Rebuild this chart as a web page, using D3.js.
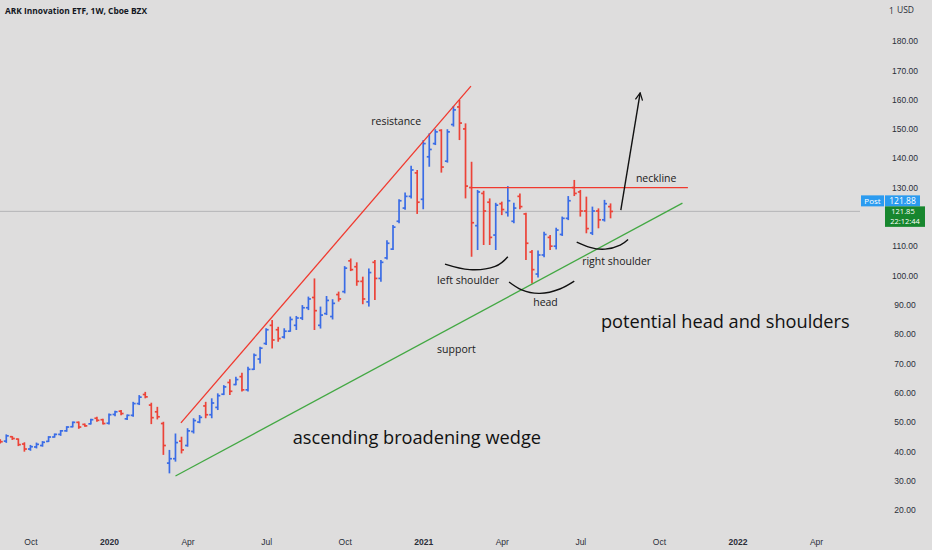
<!DOCTYPE html>
<meta charset="utf-8">
<title>ARK Innovation ETF, 1W</title>
<style>
  body { margin: 0; background: #dedddd; }
  svg { display: block; font-family: "Open Sans", sans-serif; }
  .axis text { fill: #2a2e39; font-size: 8.5px; }
  .note { fill: #1a1a1a; font-size: 10.5px; }
  .big { fill: #111; font-size: 18.2px; }
</style>
<svg width="932" height="550"></svg>
<script src="https://d3js.org/d3.v7.min.js"></script>
<script>

  // weekly bars, first one is the week of 2019-09-02
  var firstWeek = "2019-09-02";
  var opens  = [43.8,43.5,45.0,44.2,42.5,40.8,41.5,42.0,43.4,44.9,45.8,47.0,48.4,49.9,49.2,49.4,51.3,50.8,
                49.6,52.6,53.7,51.1,52.3,56.3,59.4,55.8,53.5,49.5,36.0,37.5,43.5,42.0,46.8,50.0,55.5,52.5,
                55.0,59.5,63.5,62.8,65.5,61.0,68.0,71.5,76.8,83.0,81.5,79.0,81.0,83.0,85.5,89.0,92.5,83.0,
                87.0,86.0,93.5,94.5,105.0,103.0,98.0,91.0,104.5,99.0,106.0,109.0,118.5,123.0,127.0,135.0,
                126.0,140.5,145.0,149.5,139.0,151.5,157.5,150.0,130.0,117.0,128.0,125.0,113.8,124.5,121.5,
                118.5,127.0,121.0,108.0,100.5,107.0,113.0,110.0,114.0,119.5,130.0,128.5,122.0,114.5,122.0,
                119.0,123.5];
  var highs  = [44.1,45.8,45.2,44.4,43.1,42.2,43.0,43.5,45.2,46.1,47.3,48.6,50.2,50.2,49.5,51.1,51.8,51.1,
                52.9,53.9,54.1,52.6,56.9,59.2,60.3,56.6,55.2,50.1,40.5,46.1,45.0,47.9,51.3,52.4,56.9,58.1,
                59.8,62.6,64.6,65.5,66.8,68.9,73.4,75.7,82.0,84.8,82.5,82.0,86.0,86.2,89.9,92.8,99.0,89.4,
                93.0,91.9,94.5,103.2,105.8,104.5,99.6,102.4,105.3,105.3,112.0,117.2,126.0,128.3,137.4,136.0,
                146.2,148.5,149.9,149.9,149.9,157.8,159.9,151.9,138.8,129.2,128.9,126.3,124.8,125.2,130.5,
                124.8,128.0,121.4,108.7,108.5,114.9,113.8,116.3,120.1,127.1,132.6,129.2,126.9,123.5,122.9,
                125.8,124.6];
  var lows   = [42.7,42.9,43.9,41.8,39.9,40.2,41.0,41.6,43.2,44.7,45.3,46.7,48.2,47.7,48.4,49.2,50.1,49.2,
                49.2,52.0,52.3,50.7,51.8,55.8,58.1,49.3,50.9,38.8,32.5,36.5,39.3,41.6,46.1,49.6,51.3,51.3,
                54.1,59.2,59.2,62.6,60.4,60.4,67.8,70.0,76.3,75.1,77.4,78.5,80.8,81.4,84.8,88.2,81.4,81.9,
                86.5,85.0,91.1,93.9,101.5,96.5,90.2,89.4,91.6,97.9,105.5,108.7,117.8,122.4,126.3,121.0,
                122.6,137.1,144.5,135.1,138.5,150.8,146.2,126.3,106.4,108.7,110.4,110.4,108.7,120.6,120.1,
                117.8,122.6,105.3,97.3,99.3,106.2,108.7,108.9,113.5,118.9,127.1,120.1,114.4,113.8,116.1,
                118.4,119.5];
  var closes = [43.3,45.3,44.4,42.3,40.8,41.6,42.4,43.1,44.9,45.8,47.0,48.3,49.9,48.3,48.7,50.8,50.6,49.5,
                52.5,53.5,52.9,52.3,56.3,58.5,58.6,51.5,51.8,42.0,37.5,43.0,40.5,47.0,50.5,51.6,52.5,56.5,
                59.0,62.0,60.5,64.5,61.0,68.0,72.8,75.2,81.5,78.0,78.5,81.0,85.0,85.5,89.0,92.0,88.0,86.5,
                91.5,90.5,92.0,102.5,102.0,98.0,92.0,101.0,99.0,104.5,111.0,116.5,125.5,127.0,136.0,125.0,
                145.0,143.0,149.0,137.0,149.0,156.5,152.0,130.5,118.0,128.5,122.0,113.0,124.0,122.5,125.5,
                123.0,123.5,111.0,102.0,107.0,114.0,110.0,115.5,119.5,125.5,128.0,122.0,116.0,122.0,119.0,
                124.5,121.85];

  var tickDates  = ["2019-10-07","2020-01-06","2020-04-06","2020-07-06","2020-10-05","2021-01-04",
                    "2021-04-05","2021-07-05","2021-10-04","2022-01-03","2022-04-04"];
  var tickLabels = ["Oct","2020","Apr","Jul","Oct","2021","Apr","Jul","Oct","2022","Apr"];
  // 120.00 sits under the price tags, so it is not shown
  var priceTicks = [20,30,40,50,60,70,80,90,100,110,130,140,150,160,170,180];

  var lastPrice = 121.88, lastClose = 121.85, countdown = "22:12:44";

  // drawings, as [weeks after 2020-01-06, price]
  var resistance = [[11.9, 49.7], [59.9, 164.6]];
  var support    = [[11.0, 31.6], [94.9, 124.7]];
  var neckline   = [[60.0, 130.0], [95.8, 130.0]];
  var arrow      = [[84.7, 122.3], [87.9, 162.3]];
  var leftArc    = [[55.6, 103.9], [59.7, 102.0], [63.9, 103.1], [66.0, 106.4]];
  var headArc    = [[66.2, 97.8], [68.3, 95.1], [71.3, 93.9], [74.6, 95.4], [77.0, 98.1]];
  var rightArc   = [[77.4, 111.4], [79.6, 109.6], [82.1, 109.0], [84.6, 110.4], [85.9, 112.3]];
  var notes = [
    {text: "resistance",     w: 43.4, p: 151.3, cls: "note"},
    {text: "neckline",       w: 87.2, p: 131.9, cls: "note"},
    {text: "left shoulder",  w: 54.3, p: 97.1,  cls: "note"},
    {text: "head",           w: 70.2, p: 89.6,  cls: "note"},
    {text: "right shoulder", w: 78.3, p: 103.6, cls: "note"},
    {text: "support",        w: 54.3, p: 73.6,  cls: "note"},
    {text: "potential head and shoulders", w: 81.4, p: 82.2, cls: "big"},
    {text: "ascending broadening wedge",   w: 30.4, p: 42.6, cls: "big"}
  ];

  var svg = d3.select("svg");
  var parse = d3.utcParse("%Y-%m-%d");
  var base = parse("2020-01-06");
  function wk(n) { return new Date(base.getTime() + n * 7 * 864e5); }

  var x = d3.scaleUtc().domain([wk(0), wk(117)]).range([109, 816]);
  var y = d3.scaleLinear().domain([20, 180]).range([510, 41]);

  var start = parse(firstWeek);
  var bars = opens.map(function(o, i) {
    return {date: d3.utcWeek.offset(start, i), o: o, h: highs[i], l: lows[i], c: closes[i]};
  });

  svg.append("rect").attr("width", 932).attr("height", 550).attr("fill", "#dedddd");

  // last price line
  svg.append("line")
      .attr("x1", 0).attr("x2", 860)
      .attr("y1", y(lastPrice)).attr("y2", y(lastPrice))
      .attr("stroke", "#b4b4b6").attr("stroke-width", 1);

  var bar = svg.append("g").selectAll("g")
      .data(bars)
      .enter().append("g")
      .attr("stroke", function(d) { return d.c >= d.o ? "#3a6ce6" : "#ec4338"; })
      .attr("stroke-width", 1.7);
  bar.append("line")
      .attr("x1", function(d) { return x(d.date); }).attr("x2", function(d) { return x(d.date); })
      .attr("y1", function(d) { return y(d.h); }).attr("y2", function(d) { return y(d.l); });
  bar.append("line")
      .attr("x1", function(d) { return x(d.date) - 2.5; }).attr("x2", function(d) { return x(d.date); })
      .attr("y1", function(d) { return y(d.o); }).attr("y2", function(d) { return y(d.o); });
  bar.append("line")
      .attr("x1", function(d) { return x(d.date); }).attr("x2", function(d) { return x(d.date) + 2.5; })
      .attr("y1", function(d) { return y(d.c); }).attr("y2", function(d) { return y(d.c); });

  var line = d3.line()
      .x(function(d) { return x(wk(d[0])); })
      .y(function(d) { return y(d[1]); });

  svg.append("path").attr("d", line(resistance)).attr("stroke", "#f0392e").attr("stroke-width", 1.3).attr("fill", "none");
  svg.append("path").attr("d", line(neckline)).attr("stroke", "#f0392e").attr("stroke-width", 1.3).attr("fill", "none");
  svg.append("path").attr("d", line(support)).attr("stroke", "#43a843").attr("stroke-width", 1.3).attr("fill", "none");

  svg.append("defs").append("marker")
      .attr("id", "head").attr("viewBox", "0 0 10 10").attr("refX", 9).attr("refY", 5)
      .attr("markerWidth", 9).attr("markerHeight", 9).attr("markerUnits", "userSpaceOnUse")
      .attr("orient", "auto")
    .append("path").attr("d", "M1,1L9,5L1,9").attr("fill", "none").attr("stroke", "#111").attr("stroke-width", 1.4);
  svg.append("path").attr("d", line(arrow)).attr("stroke", "#111").attr("stroke-width", 1.4)
      .attr("fill", "none").attr("marker-end", "url(#head)");

  var curve = line.curve(d3.curveNatural);
  [leftArc, headArc, rightArc].forEach(function(a) {
    svg.append("path").attr("d", curve(a)).attr("stroke", "#111").attr("stroke-width", 1.4).attr("fill", "none");
  });

  svg.append("g").selectAll("text")
      .data(notes)
      .enter().append("text")
      .attr("class", function(d) { return d.cls; })
      .attr("x", function(d) { return x(wk(d.w)); })
      .attr("y", function(d) { return y(d.p); })
      .text(function(d) { return d.text; });

  // axes
  svg.append("g")
      .attr("class", "axis")
      .attr("transform", "translate(0,536)")
      .call(d3.axisBottom(x)
          .tickValues(tickDates.map(parse))
          .tickFormat(function(d, i) { return tickLabels[i]; })
          .tickSize(0).tickPadding(3))
      .call(function(g) { g.select(".domain").remove(); })
      .call(function(g) {
        g.selectAll("text").attr("font-weight", function(d, i) { return /^\d+$/.test(tickLabels[i]) ? 600 : 400; });
      });

  svg.append("g")
      .attr("class", "axis")
      .attr("transform", "translate(905,0)")
      .call(d3.axisRight(y).tickValues(priceTicks).tickFormat(d3.format(".2f")).tickSize(0))
      .call(function(g) { g.select(".domain").remove(); })
      .call(function(g) { g.selectAll("text").attr("x", 0).attr("text-anchor", "middle"); });

  svg.append("text").attr("x", 897).attr("y", 13)
      .attr("font-size", 8.5).attr("fill", "#2a2e39").text("USD");
  svg.append("text").attr("x", 889).attr("y", 14)
      .attr("font-size", 8.5).attr("fill", "#2a2e39").text("1");

  // title
  svg.append("text").attr("x", 5).attr("y", 13.5)
      .attr("font-size", 8.4).attr("font-weight", 700).attr("fill", "#131722")
      .text("ARK Innovation ETF, 1W, Cboe BZX");

  // price tags
  var ty = y(lastPrice) - 16;
  svg.append("rect").attr("x", 861).attr("y", ty).attr("width", 23).attr("height", 11).attr("fill", "#2b9bf0");
  svg.append("rect").attr("x", 885).attr("y", ty).attr("width", 35).attr("height", 11).attr("fill", "#2b9bf0");
  svg.append("text").attr("x", 872.5).attr("y", ty + 8.3).attr("text-anchor", "middle")
      .attr("font-size", 8).attr("fill", "#fff").text("Post");
  svg.append("text").attr("x", 902.5).attr("y", ty + 8.3).attr("text-anchor", "middle")
      .attr("font-size", 8.5).attr("fill", "#fff").text(d3.format(".2f")(lastPrice));
  svg.append("rect").attr("x", 885).attr("y", ty + 11).attr("width", 40).attr("height", 20.5).attr("fill", "#17862e");
  svg.append("text").attr("x", 903).attr("y", ty + 18.8).attr("text-anchor", "middle")
      .attr("font-size", 7.5).attr("fill", "#fff").text(d3.format(".2f")(lastClose));
  svg.append("text").attr("x", 905).attr("y", ty + 29.1).attr("text-anchor", "middle")
      .attr("font-size", 7.5).attr("fill", "#fff").text(countdown);

</script>
